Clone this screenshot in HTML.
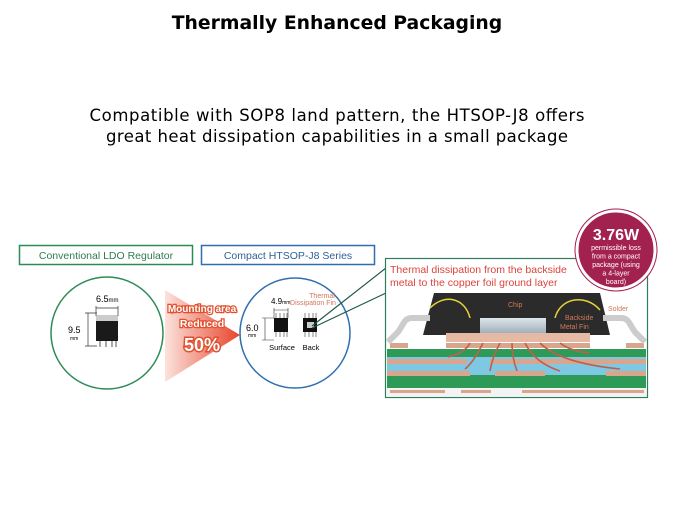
<!DOCTYPE html>
<html><head><style>
body{margin:0;width:675px;height:506px;background:#fff;overflow:hidden;font-family:"Liberation Sans",sans-serif;}
</style></head><body>
<svg width="675" height="506" viewBox="0 0 675 506" xmlns="http://www.w3.org/2000/svg" font-family="Liberation Sans, sans-serif">
<defs>
<linearGradient id="ag" x1="0" x2="1" y1="0" y2="0"><stop offset="0" stop-color="#fbe3dc"/><stop offset="1" stop-color="#e8442c"/></linearGradient>
<linearGradient id="chip" x1="0" x2="0" y1="0" y2="1"><stop offset="0" stop-color="#dfe5ea"/><stop offset="1" stop-color="#9fb0bc"/></linearGradient>
</defs>
<text x="337" y="29" text-anchor="middle" font-size="18.8" font-weight="bold" font-family="DejaVu Sans, sans-serif">Thermally Enhanced Packaging</text>
<text x="337" y="121" text-anchor="middle" font-size="16.5" font-family="DejaVu Sans, sans-serif" textLength="495" lengthAdjust="spacing">Compatible with SOP8 land pattern, the HTSOP-J8 offers</text>
<text x="337" y="142" text-anchor="middle" font-size="16.5" font-family="DejaVu Sans, sans-serif" textLength="462" lengthAdjust="spacing">great heat dissipation capabilities in a small package</text>

<rect x="19.5" y="245.5" width="173" height="19" fill="#fff" stroke="#2e8b57" stroke-width="1.5"/>
<text x="106" y="259" text-anchor="middle" font-size="10.5" fill="#2e7d4f">Conventional LDO Regulator</text>
<rect x="201.5" y="245.5" width="173" height="19" fill="#fff" stroke="#2f6fb0" stroke-width="1.5"/>
<text x="288" y="259" text-anchor="middle" font-size="10.5" fill="#2f5f9a">Compact HTSOP-J8 Series</text>

<circle cx="107" cy="333" r="56" fill="#fff" stroke="#2e8b57" stroke-width="1.5"/>
<rect x="96" y="315" width="22" height="8" fill="#ccc"/>
<rect x="96" y="321" width="22" height="20" fill="#1a1a1a"/>
<path d="M100 341v6M106 341v6M112 341v6M116 341v6" stroke="#555"/>
<path d="M96 306v10M118 306v10M96 308h22" stroke="#333" stroke-width="0.7" fill="none"/>
<path d="M85 313h12M85 346h12M88 313v33" stroke="#333" stroke-width="0.7" fill="none"/>
<text x="96" y="302" font-size="9">6.5<tspan font-size="6">mm</tspan></text>
<text x="68" y="333" font-size="9">9.5</text><text x="70" y="340" font-size="5">mm</text>

<polygon points="165,290 240,335 165,382" fill="url(#ag)"/>
<text x="202" y="312" text-anchor="middle" font-size="10" font-weight="bold" fill="#fff" stroke="#e0502e" stroke-width="2.5" paint-order="stroke">Mounting area</text>
<text x="202" y="327" text-anchor="middle" font-size="10.5" font-weight="bold" fill="#fff" stroke="#e0502e" stroke-width="2.5" paint-order="stroke">Reduced</text>
<text x="202" y="351" text-anchor="middle" font-size="18" font-weight="bold" fill="#fff" stroke="#e0502e" stroke-width="3" paint-order="stroke">50%</text>

<circle cx="295" cy="333" r="55" fill="#fff" stroke="#2f6fb0" stroke-width="1.5"/>
<rect x="274" y="318" width="14" height="14" fill="#111"/>
<path d="M276 313v5M280 313v5M284 313v5M287 313v5M276 332v5M280 332v5M284 332v5M287 332v5" stroke="#555" stroke-width="0.7"/>
<path d="M274 308v10M288 308v10M274 310h14M262 318h12M262 340h12M265 318v22" stroke="#333" stroke-width="0.6" fill="none"/>
<text x="271" y="304" font-size="8">4.9<tspan font-size="5">mm</tspan></text>
<text x="246" y="331" font-size="9">6.0</text><text x="248" y="337" font-size="5">mm</text>
<rect x="303" y="318" width="14" height="14" fill="#111"/><rect x="307" y="322" width="7" height="6" fill="#ccc"/>
<path d="M305 313v5M309 313v5M313 313v5M316 313v5M305 332v5M309 332v5M313 332v5M316 332v5" stroke="#555" stroke-width="0.7"/>
<text x="322" y="298" text-anchor="middle" font-size="7" fill="#d2785a">Thermal</text>
<text x="313" y="305" text-anchor="middle" font-size="7" fill="#d2785a">Dissipation Fin</text>
<text x="282" y="350" text-anchor="middle" font-size="7.5">Surface</text>
<text x="311" y="350" text-anchor="middle" font-size="7.5">Back</text>

<path d="M312 326L386 268M312 328L386 293" stroke="#1f5a48" stroke-width="1.2"/>

<rect x="385.5" y="258.5" width="262" height="139" fill="#fff" stroke="#2e7d5f" stroke-width="1.2"/>
<text x="390" y="273" font-size="10.5" fill="#d9443a">Thermal dissipation from the backside</text>
<text x="390" y="286" font-size="10.5" fill="#d9443a">metal to the copper foil ground layer</text>

<rect x="387" y="349" width="259" height="8" fill="#2e9a57"/>
<rect x="387" y="357" width="259" height="18" fill="#7ec8e3"/>
<rect x="387" y="375" width="259" height="13" fill="#2e9a57"/>
<rect x="387" y="388" width="259" height="8" fill="#f3f3f3"/>
<rect x="387" y="359" width="80" height="5" fill="#d9a58c"/><rect x="490" y="359" width="156" height="5" fill="#d9a58c"/>
<rect x="387" y="371" width="83" height="5" fill="#d9a58c"/><rect x="495" y="371" width="50" height="5" fill="#d9a58c"/><rect x="606" y="371" width="40" height="5" fill="#d9a58c"/>
<rect x="390" y="390" width="55" height="3" fill="#d9a58c"/><rect x="461" y="390" width="30" height="3" fill="#d9a58c"/><rect x="522" y="390" width="122" height="3" fill="#d9a58c"/>
<rect x="390" y="343" width="18" height="5" fill="#d9a58c"/><rect x="626" y="343" width="18" height="5" fill="#d9a58c"/>
<rect x="446" y="343" width="144" height="5" fill="#d9a58c"/>
<polygon points="434,293 600,293 610,335 423,335" fill="#2b2b2b"/>
<path d="M430 318h-18c-8 0-8 6-14 14l-10 10" stroke="#ccc" stroke-width="6" fill="none"/>
<path d="M603 318h18c8 0 8 6 14 14l10 10" stroke="#ccc" stroke-width="6" fill="none"/>
<rect x="446" y="333" width="144" height="9" fill="#e5b9a4"/>
<rect x="480" y="318" width="66" height="15" fill="url(#chip)"/>
<path d="M470 318c-5-20-25-25-40-10M555 318c5-20 30-25 45-8" stroke="#e5d23a" stroke-width="1.5" fill="none"/>
<text x="508" y="307" font-size="7" fill="#d2785a">Chip</text>
<text x="565" y="320" font-size="7" fill="#d2785a">Backside</text>
<text x="560" y="329" font-size="7" fill="#d2785a">Metal Fin</text>
<text x="608" y="311" font-size="7" fill="#d2785a">Solder</text>
<g stroke="#c0604a" stroke-width="1.6" fill="none">
<path d="M470 343q-5 10-22 14M483 343q-10 20-18 26M500 343q-8 15-10 28M512 343q0 15 5 28M525 343q10 20 35 28M540 343q20 20 80 26M560 343q10 8 30 10"/>
</g>

<circle cx="616" cy="250" r="39" fill="#a3214f" stroke="#fff" stroke-width="3"/>
<circle cx="616" cy="250" r="41" fill="none" stroke="#a3214f" stroke-width="1"/>
<text x="616" y="240" text-anchor="middle" font-size="16" font-weight="bold" fill="#fff">3.76W</text>
<text x="616" y="250" text-anchor="middle" font-size="7" fill="#fff">permissible loss</text>
<text x="616" y="258.5" text-anchor="middle" font-size="7" fill="#fff">from a compact</text>
<text x="616" y="267" text-anchor="middle" font-size="7" fill="#fff">package (using</text>
<text x="616" y="275.5" text-anchor="middle" font-size="7" fill="#fff">a 4-layer</text>
<text x="616" y="284" text-anchor="middle" font-size="7" fill="#fff">board)</text>
</svg>
</body></html>
